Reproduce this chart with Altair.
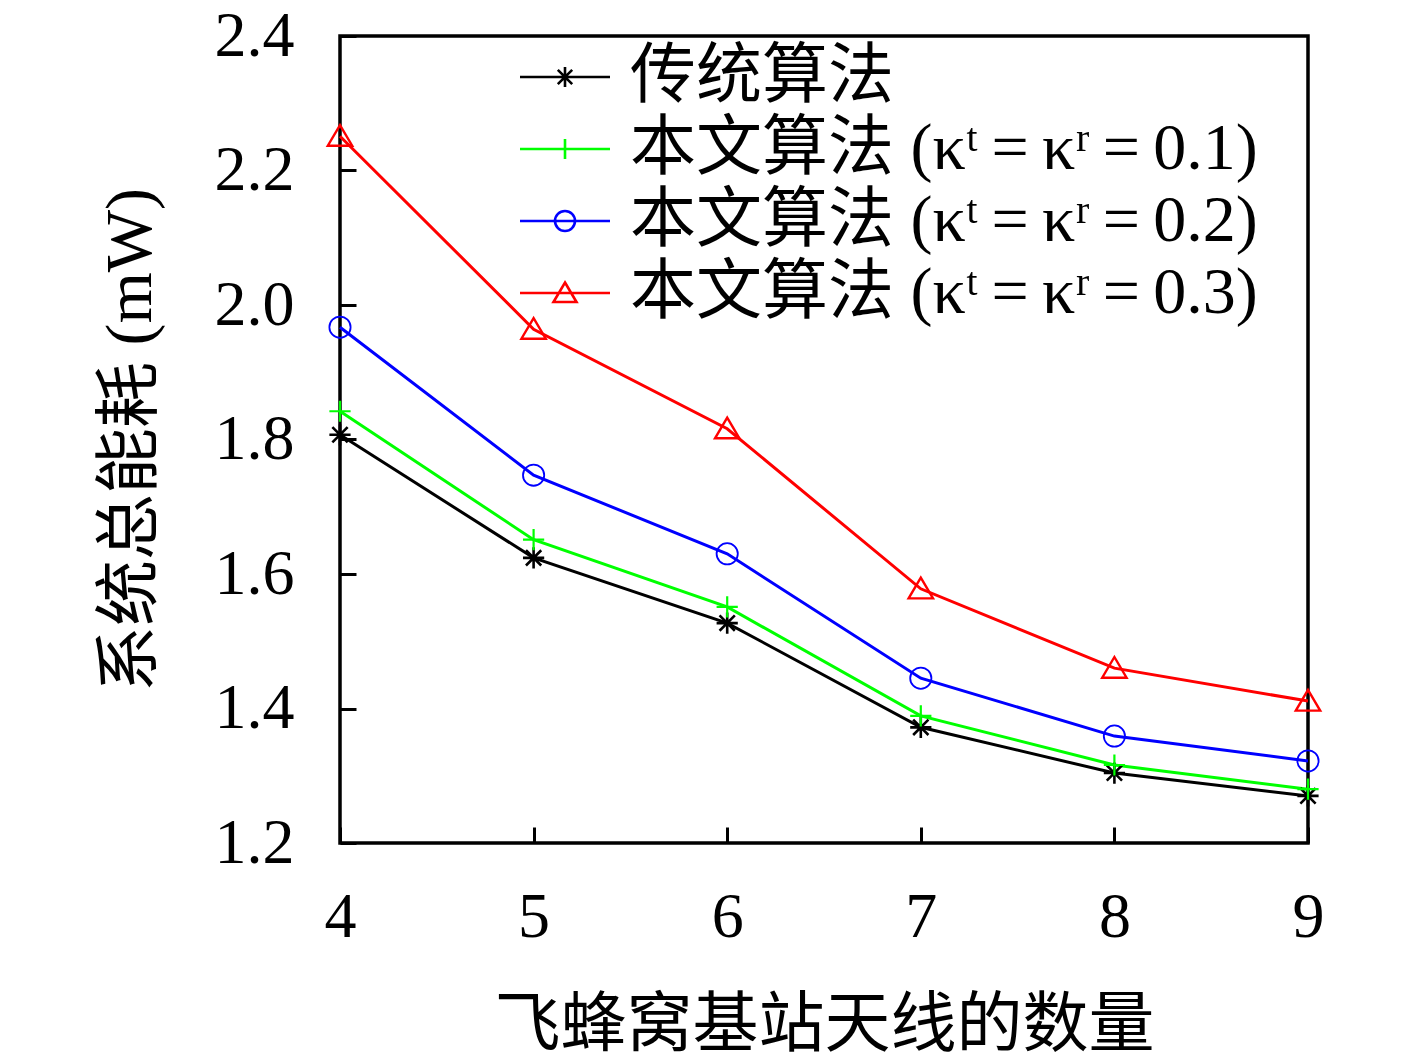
import altair as alt
import pandas as pd

x_vals = [4, 5, 6, 7, 8, 9]
series_names = [
    "传统算法",
    "本文算法 (κᵗ\u2009=\u2009κʳ\u2009=\u20090.1)",
    "本文算法 (κᵗ\u2009=\u2009κʳ\u2009=\u20090.2)",
    "本文算法 (κᵗ\u2009=\u2009κʳ\u2009=\u20090.3)",
]
conventional = [1.807, 1.624, 1.527, 1.372, 1.304, 1.270]
kappa_01 = [1.842, 1.651, 1.551, 1.389, 1.316, 1.280]
kappa_02 = [1.967, 1.747, 1.630, 1.445, 1.359, 1.322]
kappa_03 = [2.251, 1.964, 1.816, 1.578, 1.460, 1.411]
series_values = [conventional, kappa_01, kappa_02, kappa_03]
colors = ["#000000", "#00ff00", "#0000ff", "#ff0000"]
y_ticks = [1.2, 1.4, 1.6, 1.8, 2.0, 2.2, 2.4]
x_title = "飞蜂窝基站天线的数量"
y_title = "系统总能耗 (mW)"

rows = []
for name, vals in zip(series_names, series_values):
    for xv, yv in zip(x_vals, vals):
        rows.append({"x": xv, "y": yv, "series": name})
df = pd.DataFrame(rows)

# marker paths (unit box -1..1)
star = "M-1,0H1M0,-1V1M-0.72,-0.72L0.72,0.72M-0.72,0.72L0.72,-0.72"
plus = "M-1,0H1M0,-1V1"
circ = "M1,0A1,1,0,1,1,-1,0A1,1,0,1,1,1,0Z"
tri = "M0,-1.05L1.15,0.9L-1.15,0.9Z"
marker_paths = [star, plus, circ, tri]
marker_widths = [2.6, 2.2, 1.8, 2.4]
seg = "M-4.5,0H4.5"
legend_paths = [seg + p for p in marker_paths]

SERIF = "Liberation Serif, Noto Sans CJK SC"

xscale = alt.Scale(domain=[4, 9], nice=False, zero=False)
yscale = alt.Scale(domain=[1.2, 2.4], nice=False, zero=False)
cscale = alt.Scale(domain=series_names, range=colors)
sscale = alt.Scale(domain=series_names, range=legend_paths)

x_main = alt.X("x:Q", scale=xscale, axis=alt.Axis(
    values=x_vals, format="d", tickSize=0, domain=False, grid=False, labelFlush=False,
    labelFont=SERIF, labelFontSize=64, labelPadding=42, labelColor="black",
    title=x_title, titleFont=SERIF, titleFontSize=66, titleFontWeight="normal",
    titlePadding=44, titleColor="black"))
y_main = alt.Y("y:Q", scale=yscale, axis=alt.Axis(
    values=y_ticks, format=".1f", tickSize=0, domain=False, grid=False, labelFlush=False,
    labelFont=SERIF, labelFontSize=64, labelPadding=46, labelColor="black",
    title=y_title, titleFont=SERIF, titleFontSize=66, titleFontWeight="normal",
    titlePadding=50, titleColor="black"))

legend_kwargs = dict(
    orient="none", legendX=192, legendY=8, title=None,
    labelFont=SERIF, labelFontSize=66, labelColor="black", labelLimit=2000,
    labelOffset=32, rowPadding=6, symbolSize=400, symbolStrokeWidth=2.6,
    symbolOpacity=1, symbolFillColor="transparent", padding=0,
)

lines = alt.Chart(df).mark_line(strokeWidth=3).encode(
    x=x_main, y=y_main,
    color=alt.Color("series:N", scale=cscale, sort=series_names, legend=alt.Legend(**legend_kwargs)),
)
layers = [lines]
for name, col, path, sw in zip(series_names, colors, marker_paths, marker_widths):
    layers.append(
        alt.Chart(df).transform_filter(alt.datum.series == name).mark_point(
            shape=path, filled=False, size=450, strokeWidth=sw, opacity=1, color=col
        ).encode(
            x=alt.X("x:Q", scale=xscale, axis=None),
            y=alt.Y("y:Q", scale=yscale, axis=None),
        )
    )

# legend carrier: no rows drawn, only supplies the legend symbols (line + marker)
legend_layer = alt.Chart(df).transform_filter("false").mark_point(
    filled=False, size=400, strokeWidth=2.6, opacity=1
).encode(
    x=alt.X("x:Q", scale=xscale, axis=None),
    y=alt.Y("y:Q", scale=yscale, axis=None),
    color=alt.Color("series:N", scale=cscale, sort=series_names, legend=alt.Legend(**legend_kwargs)),
    shape=alt.Shape("series:N", scale=sscale, sort=series_names, legend=None),
)
layers.append(legend_layer)

ticks = alt.Chart(df).mark_point(opacity=0).encode(
    x=alt.X("x:Q", scale=xscale, axis=alt.Axis(
        orient="bottom", values=x_vals, offset=-16, tickSize=16, tickWidth=3,
        tickColor="black", labels=False, domain=False, grid=False, title=None)),
    y=alt.Y("y:Q", scale=yscale, axis=alt.Axis(
        orient="left", values=y_ticks, offset=-16, tickSize=16, tickWidth=3,
        tickColor="black", labels=False, domain=False, grid=False, title=None)),
)
layers.append(ticks)

chart = alt.layer(*layers).resolve_axis(x="independent", y="independent").properties(
    width=968, height=807,
    autosize=alt.AutoSizeParams(type="none"),
    padding={"left": 332, "top": 28, "right": 100, "bottom": 210},
    background="white",
).configure_view(stroke="black", strokeWidth=3.5)

chart.save("out.html", embed_options={"renderer": "svg", "actions": False})
